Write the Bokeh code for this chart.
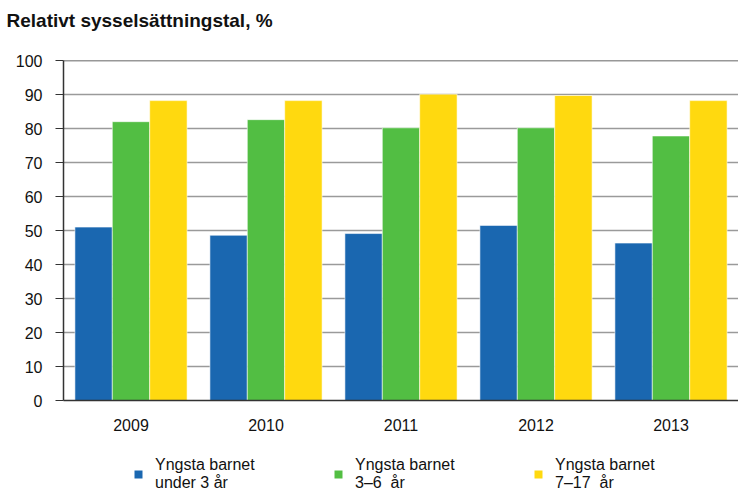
from bokeh.plotting import figure
from bokeh.models import (FactorRange, Range1d, FixedTicker, Legend, LegendItem,
                          ColumnDataSource, Span)
from bokeh.layouts import column
from bokeh.transform import dodge
from bokeh.embed import file_html
from bokeh.resources import INLINE

years = ["2009", "2010", "2011", "2012", "2013"]
under3 = [51.0, 48.6, 49.1, 51.5, 46.3]
age3_6 = [82.0, 82.6, 80.2, 80.2, 77.8]
age7_17 = [88.2, 88.2, 90.1, 89.7, 88.2]
series_labels = ["Yngsta barnet\nunder 3 år", "Yngsta barnet\n3\u20136  år", "Yngsta barnet\n7\u201317  år"]
colors = ["#1a67b0", "#52be43", "#ffd90f"]
y_ticks = [0, 10, 20, 30, 40, 50, 60, 70, 80, 90, 100]
title_text = "Relativt sysselsättningstal, %"

FONT = "Liberation Sans"

src = ColumnDataSource(dict(year=years, a=under3, b=age3_6, c=age7_17))
keys = ["a", "b", "c"]
bw = 0.277
offsets = [-bw, 0, bw]

# ---- title strip
p0 = figure(width=738, height=40, x_range=Range1d(0, 1), y_range=Range1d(0, 1),
            output_backend="svg", toolbar_location=None,
            x_axis_location=None, y_axis_location=None,
            min_border_left=63, min_border_right=0, min_border_top=0, min_border_bottom=0)
p0.outline_line_color = None
p0.grid.visible = False
p0.title.text = title_text
p0.title.text_font = FONT
p0.title.text_font_size = "19px"
p0.title.text_font_style = "bold"
p0.title.text_color = "#111111"
p0.title.align = "left"
p0.title.offset = -57
p0.title.standoff = 14

# ---- main chart
p = figure(width=738, height=400, x_range=FactorRange(*years), y_range=Range1d(0, 100),
           output_backend="svg", toolbar_location=None,
           min_border_left=63, min_border_right=0, min_border_top=20, min_border_bottom=40)
p.outline_line_color = None

for key, off, col in zip(keys, offsets, colors):
    p.vbar(x=dodge("year", off, range=p.x_range), top=key, width=bw, bottom=0,
           source=src, fill_color=col, line_color="white", line_alpha=0.7, line_width=0.8)

p.yaxis.ticker = FixedTicker(ticks=y_ticks)
p.yaxis.major_tick_out = 8
p.yaxis.major_tick_in = 0
p.yaxis.minor_tick_line_color = None
p.yaxis.axis_line_color = "#333333"
p.yaxis.axis_line_width = 1.5
p.yaxis.major_tick_line_color = "#333333"
p.yaxis.major_tick_line_width = 1.2
p.yaxis.major_label_text_font = FONT
p.yaxis.major_label_text_font_size = "16px"
p.yaxis.major_label_text_color = "#111111"
p.yaxis.major_label_standoff = 13

p.xaxis.major_tick_line_color = None
p.xaxis.major_tick_out = 0
p.xaxis.axis_line_color = "#333333"
p.xaxis.axis_line_width = 1.5
p.xaxis.major_label_text_font = FONT
p.xaxis.major_label_text_font_size = "16px"
p.xaxis.major_label_text_color = "#111111"
p.xaxis.major_label_standoff = 18

p.xgrid.grid_line_color = None
p.ygrid.grid_line_color = "#9a9a9a"
p.ygrid.grid_line_width = 1.3
p.ygrid.level = "underlay"

p.add_layout(Span(location=100, dimension="width", line_color="#333333", line_width=1.5))

# ---- legend strip (same series, kept out of view; only the legend shows)
p2 = figure(width=738, height=54, x_range=FactorRange(*years), y_range=Range1d(1000, 1001),
            output_backend="svg", toolbar_location=None,
            x_axis_location=None, y_axis_location=None,
            min_border_left=63, min_border_right=0, min_border_top=0, min_border_bottom=0)
p2.outline_line_color = None
p2.grid.visible = False
leg_renderers = []
for key, off, col in zip(keys, offsets, colors):
    r = p2.vbar(x=dodge("year", off, range=p2.x_range), top=key, width=bw, bottom=0,
                source=src, fill_color=col, line_color=None)
    leg_renderers.append(r)
items = [LegendItem(label=lab, renderers=[r]) for lab, r in zip(series_labels, leg_renderers)]
lg = Legend(items=items, location=(70, 2),
            orientation="horizontal", padding=0, margin=0, spacing=2,
            border_line_color=None, background_fill_alpha=0,
            glyph_width=10, glyph_height=10, label_standoff=12, label_width=176,
            label_text_font=FONT, label_text_font_size="16px",
            label_text_color="#111111", label_text_line_height=1.4)
p2.add_layout(lg, "center")

open("out.html", "w").write(file_html(column(p0, p, p2, spacing=0), INLINE))
